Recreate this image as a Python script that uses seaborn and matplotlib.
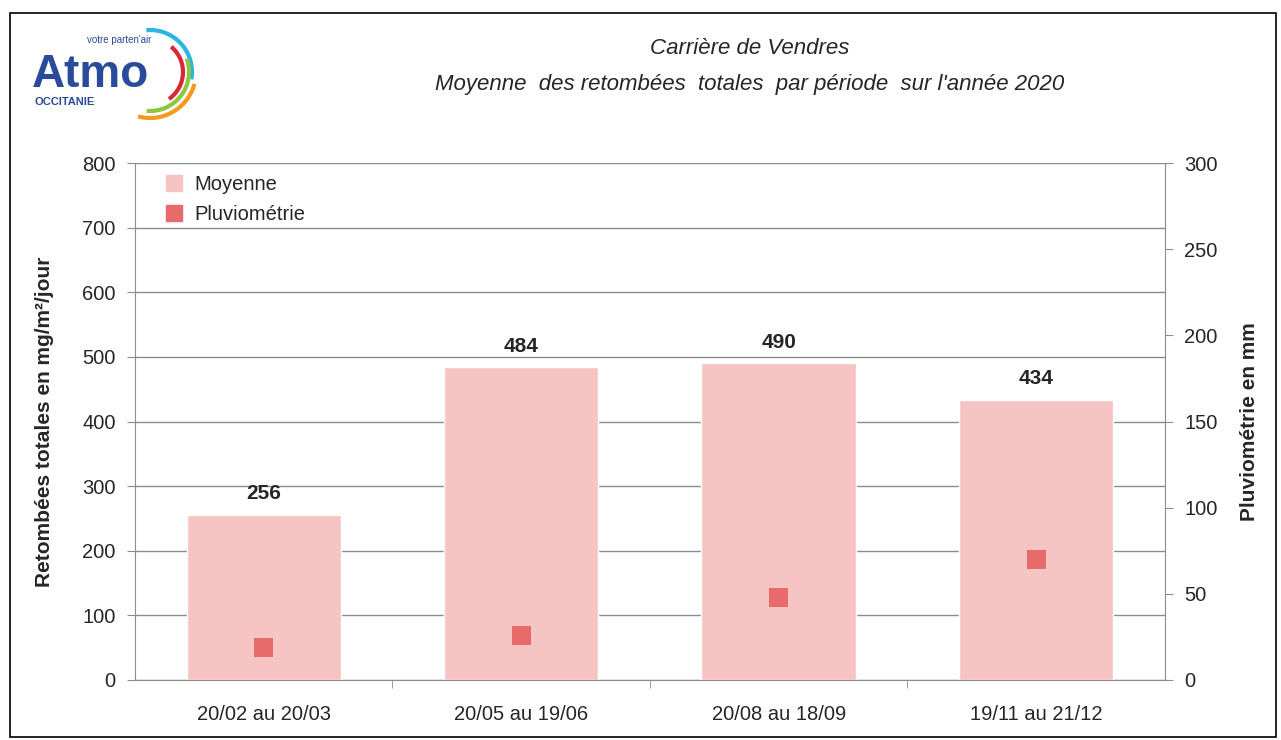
import pandas as pd
import seaborn as sns
import matplotlib.pyplot as plt
from matplotlib.patches import Arc, Rectangle
from matplotlib.lines import Line2D

# data
periodes = ["20/02 au 20/03", "20/05 au 19/06", "20/08 au 18/09", "19/11 au 21/12"]
moyenne = [256, 484, 490, 434]
pluvio = [19, 26, 48, 70]

BAR_COLOR = "#F7C4C4"
PT_COLOR = "#E86B6B"
GRID = "#8C8C8C"
TXT = "#262626"

df = pd.DataFrame({"periode": periodes, "moyenne": moyenne, "pluvio": pluvio})

sns.set_style("white")
plt.rcParams["font.family"] = ["Liberation Sans", "DejaVu Sans"]

fig = plt.figure(figsize=(12.81, 7.40), dpi=100)
ax = fig.add_axes([0.1054, 0.0811, 0.8040, 0.6986])

sns.barplot(data=df, x="periode", y="moyenne", color=BAR_COLOR, width=0.6,
            saturation=1, ax=ax, zorder=2)
ax.set_ylim(0, 800)
ax.set_yticks(range(0, 801, 100))
ax.set_xlim(-0.5, 3.5)
ax.grid(axis="y", color=GRID, linewidth=1, zorder=0)
ax.set_axisbelow(True)
for s in ["left", "bottom"]:
    ax.spines[s].set_color(GRID)
ax.spines["top"].set_visible(False)
ax.spines["right"].set_visible(False)
ax.tick_params(axis="y", labelsize=14.5, colors=GRID, labelcolor=TXT, length=6,
               direction="out", left=True, pad=8)
ax.tick_params(axis="x", labelsize=14.5, labelcolor=TXT, length=0, pad=18)
ax.set_xticks([0.5, 1.5, 2.5], minor=True)
ax.tick_params(axis="x", which="minor", length=6, color=GRID, bottom=True)
ax.set_xlabel("")
ax.set_ylabel("Retombées totales en mg/m²/jour", fontsize=15, fontweight="bold",
              color=TXT, labelpad=20)

for i, v in enumerate(moyenne):
    ax.text(i, v + 18, str(v), ha="center", va="bottom", fontsize=15,
            fontweight="bold", color=TXT)

ax2 = ax.twinx()
sns.scatterplot(data=df, x="periode", y="pluvio", marker="s", s=190, color=PT_COLOR,
                edgecolor="none", ax=ax2, zorder=3, legend=False)
ax2.set_ylim(0, 300)
ax2.set_yticks(range(0, 301, 50))
ax2.spines["right"].set_color(GRID)
for s in ["left", "top", "bottom"]:
    ax2.spines[s].set_visible(False)
ax2.tick_params(axis="y", labelsize=14.5, colors=GRID, labelcolor=TXT, length=6,
                direction="out", right=True, pad=8)
ax2.set_ylabel("Pluviométrie en mm", fontsize=15, fontweight="bold", color=TXT, labelpad=16)

handles = [
    Line2D([], [], marker="s", linestyle="none", markersize=11, color=BAR_COLOR),
    Line2D([], [], marker="s", linestyle="none", markersize=11, color=PT_COLOR),
]
ax2.legend(handles, ["Moyenne", "Pluviométrie"], loc="upper left", frameon=False,
           fontsize=14.5, handletextpad=0.0, borderaxespad=0.2, labelspacing=0.55,
           bbox_to_anchor=(0.007, 1.0))

fig.text(0.585, 0.934, "Carrière de Vendres", ha="center", va="center",
         fontsize=16, style="italic", color=TXT)
fig.text(0.585, 0.886, "Moyenne  des retombées  totales  par période  sur l'année 2020",
         ha="center", va="center", fontsize=16, style="italic", color=TXT)

# logo
fig.text(0.025, 0.898, "Atmo", fontsize=33, fontweight="bold", color="#2A4A9B",
         ha="left", va="center")
fig.text(0.068, 0.946, "votre parten'air", fontsize=7, color="#2A4A9B", ha="left",
         va="center")
fig.text(0.027, 0.862, "OCCITANIE", fontsize=8, fontweight="bold", color="#2A4A9B",
         ha="left", va="center")
# logo arcs, in pixel-like coordinates of the top-left corner
logo_ax = fig.add_axes([0.0, 0.83, 0.2, 0.17])
logo_ax.set_xlim(0, 256.2)
logo_ax.set_ylim(125.8, 0)
logo_ax.axis("off")
for r, c, t1, t2 in [(42, "#2BB5E0", -95, 10), (33, "#D9263A", -50, 55),
                     (39, "#8DC63F", -20, 95), (46, "#F39A1E", 15, 105)]:
    logo_ax.add_patch(Arc((150, 72), 2 * r, 2 * r, theta1=t1, theta2=t2,
                          color=c, linewidth=3))

fig.add_artist(Rectangle((0.008, 0.004), 0.988, 0.978, transform=fig.transFigure,
                         fill=False, edgecolor="black", linewidth=1.2))

fig.savefig("out.png", dpi=100)
